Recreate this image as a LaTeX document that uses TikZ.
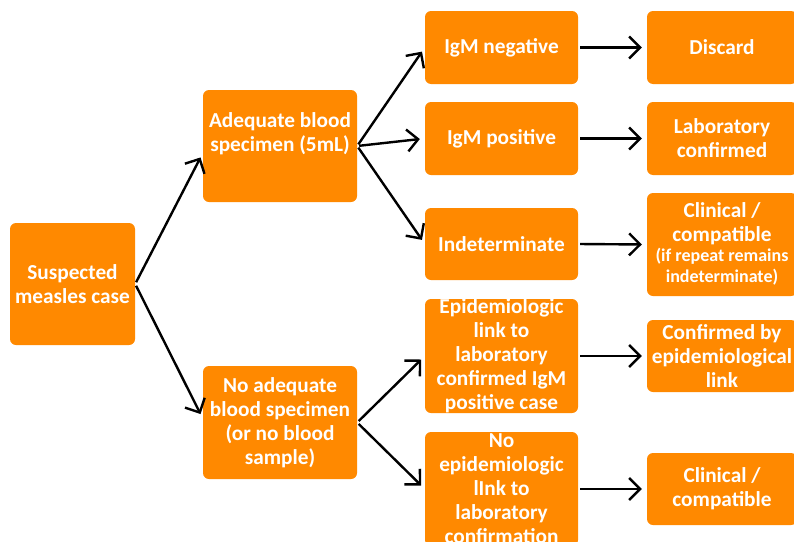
\documentclass[tikz,border=0pt]{standalone}
\usepackage{fontspec}
\setmainfont{Carlito}
\usetikzlibrary{arrows.meta,calc}
\definecolor{boxorange}{RGB}{255,137,0}
\tikzset{
  box/.style={fill=boxorange, draw=none, rounded corners=6pt, inner sep=0pt},
  txt/.style={text=white, font=\fontsize{21.3}{24}\selectfont\bfseries, align=center, inner sep=0pt},
  arr/.style={draw=black, line width=2.4pt, -{Straight Barb[length=11pt,width=22pt,line width=2.4pt]}, shorten <=2pt, shorten >=5pt}
}
\begin{document}
\begin{tikzpicture}[x=1pt,y=1pt]
\clip (0,0) rectangle (794,-541);
\fill[white] (0,0) rectangle (794,-541);
% column 1
\node[box, minimum width=125, minimum height=122] (susp) at (72.5,-284) {};
\node[txt] at (susp) {Suspected\\measles case};
% column 2
\node[box, minimum width=154, minimum height=112] (adeq) at (280,-146) {};
\node[txt] at (280,-134) {Adequate blood\\specimen (5mL)};
\node[box, minimum width=154, minimum height=113] (noad) at (280,-422.5) {};
\node[txt] at (noad) {No adequate\\blood specimen\\(or no blood\\sample)};
% column 3
\node[box, minimum width=153, minimum height=73] (neg) at (501.5,-47.5) {};
\node[txt] at (neg) {IgM negative};
\node[box, minimum width=153, minimum height=73] (pos) at (501.5,-138.5) {};
\node[txt] at (pos) {IgM positive};
\node[box, minimum width=153, minimum height=72] (ind) at (501.5,-244) {};
\node[txt] at (ind) {Indeterminate};
\node[box, minimum width=153, minimum height=114] (epi) at (501.5,-356) {};
\node[txt] at (epi) {Epidemiologic\\link to\\laboratory\\confirmed IgM\\positive case};
\node[box, minimum width=153, minimum height=114] (noepi) at (501.5,-489) {};
\node[txt] at (noepi) {No\\epidemiologic\\lInk to\\laboratory\\confirmation};
% column 4
\node[box, minimum width=150, minimum height=73] (disc) at (722,-47.5) {};
\node[txt] at (disc) {Discard};
\node[box, minimum width=150, minimum height=73] (lab) at (722,-138.5) {};
\node[txt] at (lab) {Laboratory\\confirmed};
\node[box, minimum width=150, minimum height=103] (clin1) at (722,-244.5) {};
\node[txt] at (722,-244) {Clinical /\\compatible\\[-4pt]{\fontsize{18}{21}\selectfont (if repeat remains}\\[-3pt]{\fontsize{18}{21}\selectfont indeterminate)}};
\node[box, minimum width=150, minimum height=72] (conf) at (722,-356) {};
\node[txt] at (conf) {Confirmed by\\epidemiological\\link};
\node[box, minimum width=150, minimum height=72] (clin2) at (722,-489) {};
\node[txt] at (clin2) {Clinical /\\compatible};
% connectors
\draw[arr] (susp.east) -- ($(adeq.west)+(0,-7)$);
\draw[arr] (susp.east) -- ($(noad.west)+(0,4)$);
\draw[arr] (adeq.east) -- (neg.west);
\draw[arr] (adeq.east) -- (pos.west);
\draw[arr] (adeq.east) -- (ind.west);
\draw[arr] (noad.east) -- (epi.west);
\draw[arr] (noad.east) -- (noepi.west);
\draw[arr] (neg.east) -- (disc.west);
\draw[arr] (pos.east) -- (lab.west);
\draw[arr] (ind.east) -- (clin1.west);
\draw[arr] (epi.east) -- (conf.west);
\draw[arr] (noepi.east) -- (clin2.west);
\end{tikzpicture}
\end{document}
